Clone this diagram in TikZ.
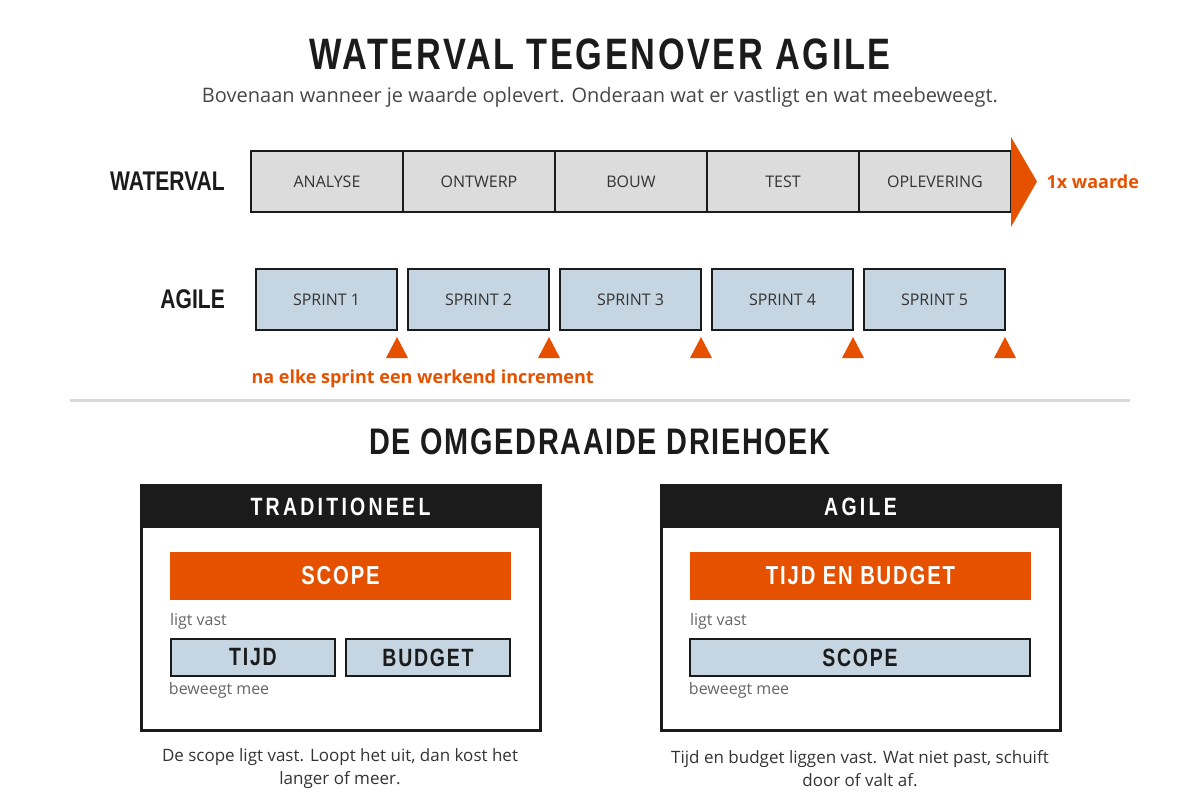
\documentclass[tikz,border=0pt]{standalone}
\usepackage{fontspec}
\setmainfont{Open Sans}
\newfontfamily\kopfont[FakeStretch=0.78]{Liberation Sans}
\newfontfamily\kopfontls[FakeStretch=0.78,LetterSpace=6]{Liberation Sans}
\newfontfamily\kopfontmid[FakeStretch=0.78,LetterSpace=7]{Liberation Sans}
\newfontfamily\kopfontwijd[FakeStretch=0.78,LetterSpace=13]{Liberation Sans}
\newfontfamily\kopfontsectie[FakeStretch=0.78,LetterSpace=4.5]{Liberation Sans}
\usetikzlibrary{positioning,calc}

\definecolor{inkt}{HTML}{1B1B1B}
\definecolor{oranje}{HTML}{E65100}
\definecolor{grijs}{HTML}{DCDCDC}
\definecolor{blauw}{HTML}{C5D5E2}
\definecolor{tekst}{HTML}{333333}
\definecolor{zacht}{HTML}{666666}
\definecolor{lijn}{HTML}{D9D9D9}

\tikzset{
  fase/.style={draw=inkt, line width=2.5pt, fill=grijs, inner sep=0pt, outer sep=0pt,
    minimum width=152pt, minimum height=61pt,
    font=\fontsize{16}{19}\selectfont, text=tekst},
  sprint/.style={fase, fill=blauw, minimum width=141pt},
  rijlabel/.style={font=\kopfont\bfseries\fontsize{27}{30}\selectfont, text=inkt, anchor=east, inner sep=0pt},
  oranjetekst/.style={font=\bfseries\fontsize{18}{21}\selectfont, text=oranje, anchor=west},
  paneel/.style={draw=inkt, line width=3pt, fill=white, outer sep=0pt, minimum width=399pt, minimum height=245pt},
  paneelkop/.style={fill=inkt, text=white, inner sep=0pt, minimum width=399pt, minimum height=43pt,
    font=\kopfontwijd\bfseries\fontsize{25}{30}\selectfont},
  vast/.style={fill=oranje, text=white, inner sep=0pt, minimum height=48pt,
    font=\kopfontmid\bfseries\fontsize{26}{30}\selectfont},
  mee/.style={draw=inkt, line width=2.5pt, fill=blauw, text=inkt, inner sep=0pt, minimum height=37pt,
    font=\kopfontmid\bfseries\fontsize{25}{28}\selectfont},
  notitie/.style={font=\fontsize{16}{19}\selectfont, text=zacht, anchor=west, inner sep=0pt},
  bijschrift/.style={font=\fontsize{17}{23}\selectfont, text=tekst, align=center}
}

\begin{document}
\begin{tikzpicture}[x=1pt,y=-1pt]
  \useasboundingbox (0,0) rectangle (1200,800);
  % titel
  \node[font=\kopfontls\bfseries\fontsize{44}{50}\selectfont, text=inkt] (titel) at (600,54) {WATERVAL TEGENOVER AGILE};
  \node[font=\fontsize{20}{24}\selectfont, text=tekst!90] (ondertitel) at (600,97) {Bovenaan wanneer je waarde oplevert. Onderaan wat er vastligt en wat meebeweegt.};

  % waterval
  \node[fase] (w1) at (327,181.5) {ANALYSE};
  \node[fase, right=0pt of w1] (w2) {ONTWERP};
  \node[fase, right=0pt of w2] (w3) {BOUW};
  \node[fase, right=0pt of w3] (w4) {TEST};
  \node[fase, right=0pt of w4] (w5) {OPLEVERING};
  \fill[oranje] ($(w5.north east)+(0,-14)$) -- ($(w5.east)+(26,0)$) -- ($(w5.south east)+(0,15)$) -- cycle;
  \node[rijlabel, left=26pt of w1] (lwaterval) {WATERVAL};
  \node[oranjetekst] (waarde) at (1043,182) {1x waarde};

  % agile
  \node[sprint] (s1) at (326.5,299.5) {SPRINT 1};
  \foreach \i [remember=\i as \j (initially 1)] in {2,...,5}
    \node[sprint, right=11pt of s\j] (s\i) {SPRINT \i};
  \foreach \i in {1,...,5}
    \fill[oranje] ($(s\i.south east)+(0,7)$) -- ++(11,21) -- ++(-22,0) -- cycle;
  \node[rijlabel, left=31pt of s1] (lagile) {AGILE};
  \node[oranjetekst] (increment) at (248,379) {na elke sprint een werkend increment};

  % scheiding
  \draw[lijn, line width=3pt] (70,400) -- (1130,400);
  \node[font=\kopfontsectie\bfseries\fontsize{37}{42}\selectfont, text=inkt] (driehoek) at (600,442) {DE OMGEDRAAIDE DRIEHOEK};

  % traditioneel
  \node[paneel] (trad) at (340.5,607.5) {};
  \node[paneelkop, anchor=north] (tradkop) at (trad.north) {TRADITIONEEL};
  \node[vast, minimum width=341pt] (tscope) at (340.5,576) {SCOPE};
  \node[notitie] (tvast) at ($(tscope.south west)+(0,21)$) {ligt vast};
  \node[mee, minimum width=164pt] (ttijd) at (253,657.5) {TIJD};
  \node[mee, minimum width=164pt] (tbudget) at (428,657.5) {BUDGET};
  \node[notitie] (tmee) at ($(ttijd.south west)+(-1,13)$) {beweegt mee};
  \node[bijschrift] (tuitleg) at (340,769) {De scope ligt vast. Loopt het uit, dan kost het\\langer of meer.};

  % agile
  \node[paneel] (agi) at (860.5,607.5) {};
  \node[paneelkop, anchor=north] (agikop) at (agi.north) {AGILE};
  \node[vast, minimum width=341pt] (atijd) at (860.5,576) {TIJD EN BUDGET};
  \node[notitie] (avast) at ($(atijd.south west)+(0,21)$) {ligt vast};
  \node[mee, minimum width=340pt] (ascope) at (860,657.5) {SCOPE};
  \node[notitie] (amee) at ($(ascope.south west)+(0,13)$) {beweegt mee};
  \node[bijschrift] (auitleg) at (860,769) {Tijd en budget liggen vast. Wat niet past, schuift\\door of valt af.};
\end{tikzpicture}
\end{document}
